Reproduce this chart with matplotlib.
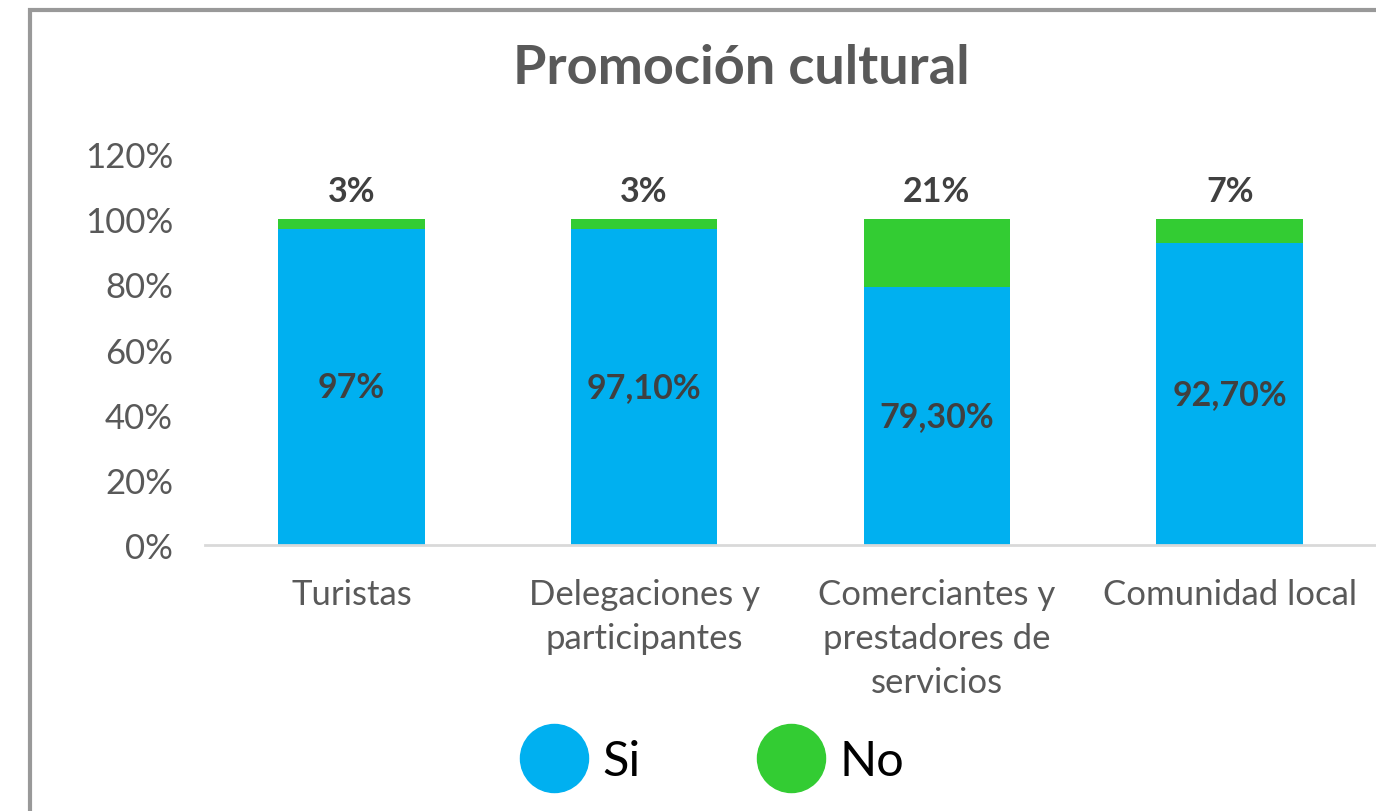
import matplotlib.pyplot as plt
from matplotlib.patches import Rectangle
from matplotlib.lines import Line2D

## Data
categories = ['Turistas', 'Delegaciones y\nparticipantes',
              'Comerciantes y\nprestadores de\nservicios', 'Comunidad local']
si = [0.97, 0.971, 0.793, 0.927]
no = [0.03, 0.029, 0.207, 0.073]
si_labels = ['97%', '97,10%', '79,30%', '92,70%']
no_labels = ['3%', '3%', '21%', '7%']
yticks = [0, 0.2, 0.4, 0.6, 0.8, 1.0, 1.2]
ytick_labels = ['0%', '20%', '40%', '60%', '80%', '100%', '120%']
series = ['Si', 'No']
colors = ['#00B0F0', '#33CC33']

plt.rcParams['font.family'] = ['Lato', 'DejaVu Sans']

fig = plt.figure(figsize=(13.76, 8.12), dpi=100)
ax = fig.add_axes([205/1376, 1-546/812, 1171/1376, 391/812])

x = list(range(len(categories)))
ax.bar(x, si, width=0.5, color=colors[0])
ax.bar(x, no, width=0.5, bottom=si, color=colors[1])

for i in x:
    ax.text(i, si[i]/2, si_labels[i], ha='center', va='center',
            fontsize=24.5, fontweight='bold', color='#404040')
    ax.text(i, si[i] + no[i] + 0.085, no_labels[i], ha='center', va='center',
            fontsize=24.5, fontweight='bold', color='#404040')

ax.set_xlim(-0.5, 3.5)
ax.set_ylim(0, 1.2)
ax.set_yticks(yticks)
ax.set_yticklabels(ytick_labels)
ax.set_xticks(x)
ax.set_xticklabels(categories, linespacing=1.45)
ax.tick_params(axis='both', length=0, labelsize=25, labelcolor='#595959')
ax.tick_params(axis='y', pad=23)
ax.tick_params(axis='x', pad=24)
for s in ['top', 'right', 'left']:
    ax.spines[s].set_visible(False)
ax.spines['bottom'].set_color('#D9D9D9')
ax.spines['bottom'].set_linewidth(2)

fig.text(741/1376, 1-68/812, 'Promoción cultural', ha='center', va='center',
         fontsize=39, fontweight='bold', color='#595959')

handles = [Line2D([], [], marker='o', linestyle='none', markersize=49,
                  markerfacecolor=c, markeredgecolor=c) for c in colors]
fig.legend(handles, series, loc='center', bbox_to_anchor=(712/1376, 1-762/812),
           ncol=2, frameon=False, prop={'size': 35}, handlelength=1.4,
           handletextpad=0.3, columnspacing=2.4)

# outer frame of the chart area
fig.patches.append(Rectangle((30/1376, -0.2), 2, 1.2 - 11/812, fill=False,
                             edgecolor='#999999', linewidth=3,
                             transform=fig.transFigure))

plt.savefig('out.png', dpi=100)
